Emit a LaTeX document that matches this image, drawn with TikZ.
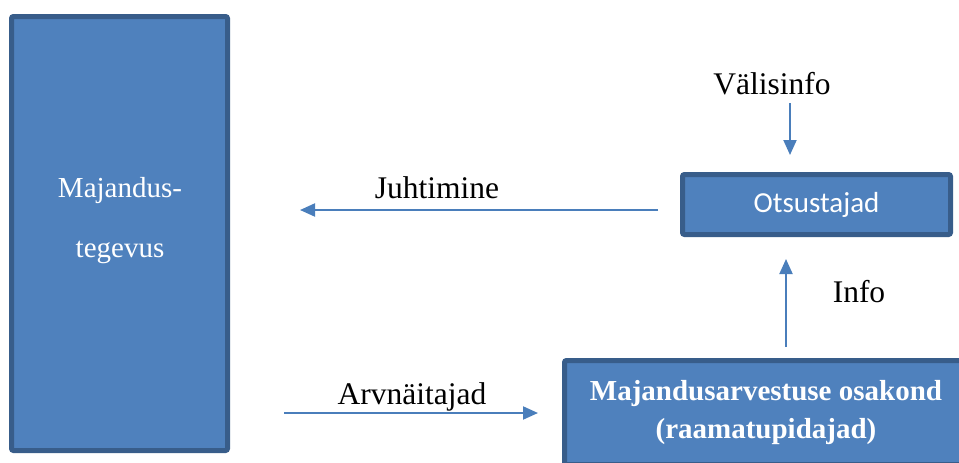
\documentclass[tikz,border=0pt]{standalone}
\usepackage{fontspec}
\setmainfont{Liberation Serif}
\newfontfamily\calibrifont{Carlito}
\usetikzlibrary{%
    arrows.meta,
    calc,
    positioning
}
\definecolor{boxfill}{HTML}{4F81BD}
\definecolor{boxline}{HTML}{385D8A}
\definecolor{flowcol}{HTML}{4A7EBB}
\tikzset{
    bluebox/.style = {draw=boxline, fill=boxfill, line width=5pt, rounded corners=2pt,
                      text=white, inner sep=0pt},
    flowarrow/.style = {-{Triangle[length=15pt,width=13pt]}, draw=flowcol, line width=2pt},
    bigtext/.style = {font=\fontsize{31.5}{38}\selectfont}
}

\begin{document}
\begin{tikzpicture}[x=1pt,y=-1pt]
    \useasboundingbox (0,0) rectangle (959,463);

    \node (majbox) [bluebox,minimum width=216pt,minimum height=434pt] at (119.5,233.5) {};
    \node (majtext) [text=white,align=center,font=\fontsize{29}{60}\selectfont] at (120,221) {Majandus-\\tegevus};

    \node (otsus) [bluebox,minimum width=268pt,minimum height=60pt,font=\calibrifont\fontsize{29}{35}\selectfont] at (816.5,204.5) {Otsustajad};
    \node (arv) [bluebox,minimum width=403pt,minimum height=104pt,align=center,font=\bfseries\fontsize{29}{38}\selectfont] at (766,412.5) {Majandusarvestuse osakond\\(raamatupidajad)};

    \node (valis) [bigtext,anchor=base] at (772,94) {Välisinfo};
    \node (juht) [bigtext,anchor=base] at (437,198) {Juhtimine};
    \node (arvn) [bigtext,anchor=base] at (412,404) {Arvnäitajad};
    \node (info) [bigtext,anchor=base] at (859,302) {Info};

    \coordinate (valis-s) at (790,103);
    \coordinate (valis-e) at (790,155);
    \coordinate (juht-s) at (658,210);
    \coordinate (juht-e) at (300,210);
    \coordinate (arvn-s) at (284,413);
    \coordinate (arvn-e) at (538,413);
    \coordinate (info-s) at (786,347);
    \coordinate (info-e) at (786,259);

    \draw[flowarrow] (valis-s) -- (valis-e);
    \draw[flowarrow] (juht-s) -- (juht-e);
    \draw[flowarrow] (arvn-s) -- (arvn-e);
    \draw[flowarrow] (info-s) -- (info-e);
\end{tikzpicture}
\end{document}
